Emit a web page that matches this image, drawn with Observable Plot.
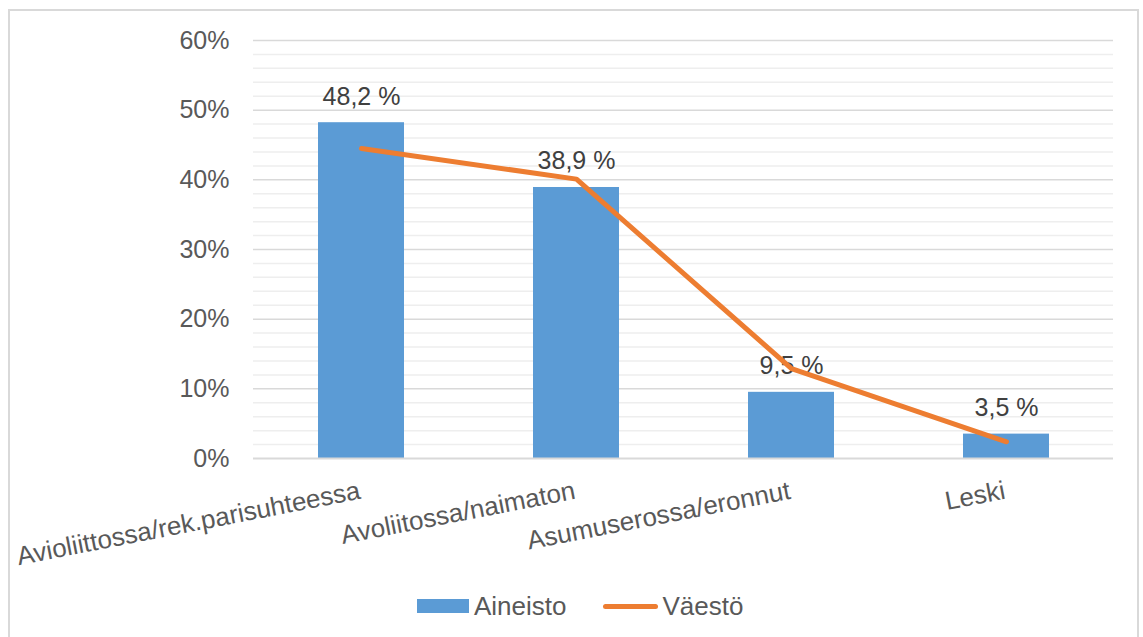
<!DOCTYPE html>
<html>
<head>
<meta charset="utf-8">
<script src="https://cdn.jsdelivr.net/npm/d3@7"></script>
<script src="https://cdn.jsdelivr.net/npm/@observablehq/plot@0.6"></script>
<style>
  html, body { margin: 0; padding: 0; background: #fff; }
  body { width: 1143px; height: 637px; position: relative; overflow: hidden; font-family: "Liberation Sans", Arial, sans-serif; }
  #frame { position: absolute; left: 8px; top: 9px; width: 1131px; height: 640px; border: 2px solid #d9d9d9; box-sizing: border-box; }
  #chart { position: absolute; left: 0; top: 0; }
  #legend { position: absolute; left: 417px; top: 590px; height: 32px; display: flex; align-items: center; font-size: 26px; color: #595959; }
  .sw-bar { width: 52px; height: 14px; background: #5b9bd5; margin-right: 5px; }
  .sw-line { width: 55px; height: 5px; border-radius: 3px; background: #ed7d31; margin-right: 5px; margin-left: 36px; }
</style>
</head>
<body>
<div id="frame"></div>
<div id="chart"></div>
<div id="legend">
  <div class="sw-bar"></div><span>Aineisto</span>
  <div class="sw-line"></div><span>Väestö</span>
</div>
<script>
const categories = ["Avioliittossa/rek.parisuhteessa", "Avoliitossa/naimaton", "Asumuserossa/eronnut", "Leski"];
const aineisto = [48.2, 38.9, 9.5, 3.5];
const vaesto = [44.5, 40.1, 12.9, 2.4];
const yTicks = [0, 10, 20, 30, 40, 50, 60];
const minorTicks = [2,4,6,8,12,14,16,18,22,24,26,28,32,34,36,38,42,44,46,48,52,54,56,58];

const bars = categories.map((c, i) => ({category: c, value: aineisto[i]}));
const line = categories.map((c, i) => ({category: c, value: vaesto[i]}));
const fmt = v => v.toFixed(1).replace(".", ",") + " %";

const chart = Plot.plot({
  width: 1143,
  height: 580,
  marginLeft: 253,
  marginRight: 30,
  marginTop: 40,
  marginBottom: 122,
  style: {fontFamily: "'Liberation Sans', Arial, sans-serif", background: "transparent", overflow: "visible"},
  x: {type: "band", domain: categories, paddingInner: 0.6, paddingOuter: 0.3, axis: null},
  y: {domain: [0, 60], axis: null},
  marks: [
    Plot.ruleY(minorTicks, {stroke: "#eeeeee", strokeWidth: 1.5}),
    Plot.ruleY(yTicks.filter(d => d > 0), {stroke: "#d9d9d9", strokeWidth: 1.5}),
    Plot.axisY({ticks: yTicks, tickFormat: d => d + "%", label: null, tickSize: 0, tickPadding: 24, fontSize: 25, fill: "#595959", color: "#595959"}),
    Plot.barY(bars, {x: "category", y: "value", fill: "#5b9bd5"}),
    Plot.ruleY([0], {stroke: "#d9d9d9", strokeWidth: 2}),
    Plot.text(bars, {x: "category", y: "value", text: d => fmt(d.value), dy: -18, lineAnchor: "bottom", fontSize: 25, fill: "#404040"}),
    Plot.line(line, {x: "category", y: "value", stroke: "#ed7d31", strokeWidth: 5, strokeLinecap: "round"}),
    Plot.text(categories, {x: d => d, frameAnchor: "bottom", dy: 40, rotate: -11, textAnchor: "end", lineAnchor: "bottom", fontSize: 26, fill: "#595959"})
  ]
});
document.getElementById("chart").appendChild(chart);
</script>
</body>
</html>
